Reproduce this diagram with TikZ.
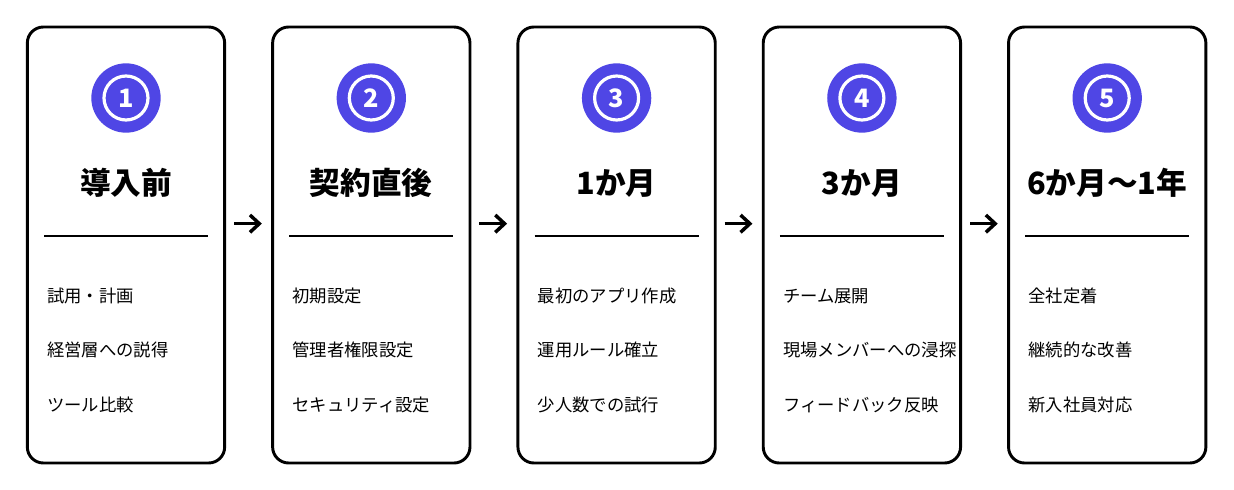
\documentclass[tikz,border=0pt]{standalone}
\usepackage{fontspec}
\setmainfont{Noto Sans CJK JP}
\usetikzlibrary{arrows.meta}
\definecolor{stepblue}{HTML}{4F46E5}
\tikzset{
  card/.style={draw, line width=2.2pt, rounded corners=12pt, minimum width=148pt, minimum height=327pt},
  badge/.style={circle, fill=stepblue, minimum size=52pt, inner sep=0pt},
  ring/.style={circle, draw=white, line width=2.4pt, minimum size=33pt, inner sep=0pt, text=white, font=\fontsize{19pt}{19pt}\selectfont\bfseries},
  heading/.style={font=\fontsize{23pt}{26pt}\selectfont\bfseries},
  item/.style={font=\fontsize{13pt}{16pt}\selectfont},
  nextstep/.style={-{Straight Barb[length=7pt,width=13pt,line width=2.6pt]}, line width=2.6pt}
}
\begin{document}
\begin{tikzpicture}[x=0.75pt,y=-0.75pt]
    \useasboundingbox[fill=white] (0,0) rectangle (1234,489);
    % cards
    \foreach \i/\ttl/\a/\b/\c in {1/導入前/試用・計画/経営層への説得/ツール比較,
        2/契約直後/初期設定/管理者権限設定/セキュリティ設定,
        3/1か月/最初のアプリ作成/運用ルール確立/少人数での試行,
        4/3か月/チーム展開/現場メンバーへの浸探/フィードバック反映,
        5/6か月〜1年/全社定着/継続的な改善/新入社員対応} {
        \pgfmathsetmacro{\cx}{126+245.3*(\i-1)}
        \node[card] (card\i) at (\cx,245) {};
        \node[badge] (badge\i) at (\cx,98) {};
        \node[ring] (ring\i) at (\cx,98) {\i};
        \node[heading] (title\i) at (\cx,183) {\ttl};
        \draw[line width=1.6pt] (\cx-82,236) -- (\cx+82,236);
        \node[item, anchor=west, inner sep=0pt] (a\i) at (\cx-79,296) {\a};
        \node[item, anchor=west, inner sep=0pt] (b\i) at (\cx-79,350) {\b};
        \node[item, anchor=west, inner sep=0pt] (c\i) at (\cx-79,405) {\c};
    }
    % arrows
    \foreach \i [evaluate=\i as \j using int(\i+1)] in {1,...,4} {
        \coordinate (s\i) at ([xshift=6pt,yshift=16pt]card\i.east);
        \coordinate (t\i) at ([xshift=-7pt,yshift=16pt]card\j.west);
        \draw[nextstep] (s\i) -- (t\i);
    }
\end{tikzpicture}
\end{document}
